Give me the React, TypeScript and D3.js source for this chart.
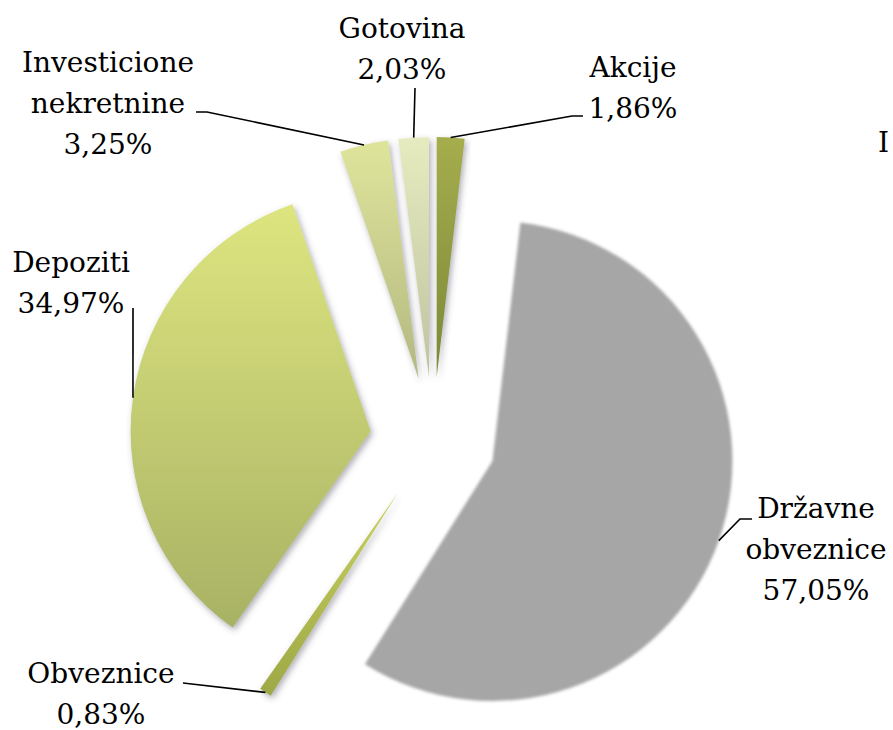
import React from "react";
import * as d3 from "d3";

// ---- data ----
const labels = ["Akcije", "Državne obveznice", "Obveznice", "Depoziti", "Investicione nekretnine", "Gotovina"];
const values = [1.86, 57.05, 0.83, 34.97, 3.25, 2.03];
const valueText = ["1,86%", "57,05%", "0,83%", "34,97%", "3,25%", "2,03%"];

// ---- style ----
const topColors = ["#a5ad4d", "#a6a6a6", "#c9d160", "#dde57f", "#dfe49b", "#e6ebbf"];
const bottomColors = ["#7c8837", "#a6a6a6", "#9ea846", "#a8b264", "#b3b881", "#c0c39f"];

// label layout: text block centre x, first baseline y, line splits, leader bend points
const labelLines = [
  ["Akcije"],
  ["Državne", "obveznice"],
  ["Obveznice"],
  ["Depoziti"],
  ["Investicione", "nekretnine"],
  ["Gotovina"],
];
const labelLayout = [
  { x: 633, y: 77, leader: [[572, 116], [583, 116]] },
  { x: 816, y: 518, leader: [[740, 519], [752, 519]] },
  { x: 101, y: 683, leader: [[183, 683]] },
  { x: 71, y: 272, leader: [[133, 308]] },
  { x: 108, y: 72, leader: [[207, 112], [196, 112]] },
  { x: 402, y: 38, leader: [[415, 88]] },
];

const W = 893;
const H = 730;
const cx = 433;
const cy = 440;
const R = 240;
const EXPLODE = 63;
const FONT = "'DejaVu Serif', serif";
const FS = 28;
const LH = 41;

export default function App() {
  const pie = d3.pie<number>().sort(null).value((d) => d);
  const arcs = pie(values);
  const arc = d3.arc<d3.PieArcDatum<number>>().innerRadius(0).outerRadius(R);

  return (
    <svg
      width={W}
      height={H}
      viewBox={`0 0 ${W} ${H}`}
      style={{ position: "absolute", left: 0, top: 0, background: "#fff" }}
    >
      <defs>
        {arcs.map((a, i) => (
          <linearGradient key={i} id={`g${i}`} x1="0" y1="0" x2="0" y2="1">
            <stop offset="0%" stopColor={topColors[i]} />
            <stop offset="100%" stopColor={bottomColors[i]} />
          </linearGradient>
        ))}
        <filter id="shadow" x="-20%" y="-20%" width="140%" height="140%">
          <feDropShadow dx="2" dy="3" stdDeviation="3" floodColor="#4a4a5a" floodOpacity="0.45" />
        </filter>
        <filter id="blur" x="-10%" y="-10%" width="120%" height="120%">
          <feGaussianBlur stdDeviation="1.6" />
        </filter>
      </defs>
      <rect width={W} height={H} fill="#fff" />
      {arcs.map((a, i) => {
        const mid = (a.startAngle + a.endAngle) / 2;
        const ox = cx + Math.sin(mid) * EXPLODE;
        const oy = cy - Math.cos(mid) * EXPLODE;
        const isGray = i === 1;
        return (
          <path
            key={i}
            d={arc(a) || ""}
            transform={`translate(${ox},${oy})`}
            fill={`url(#g${i})`}
            filter={isGray ? "url(#blur)" : "url(#shadow)"}
          />
        );
      })}
      {arcs.map((a, i) => {
        const mid = (a.startAngle + a.endAngle) / 2;
        const ox = cx + Math.sin(mid) * EXPLODE;
        const oy = cy - Math.cos(mid) * EXPLODE;
        const sx = ox + Math.sin(mid) * R;
        const sy = oy - Math.cos(mid) * R;
        const pts = [[sx, sy], ...labelLayout[i].leader];
        const line = d3.line()(pts as [number, number][]) || "";
        return <path key={i} d={line} fill="none" stroke="#000" strokeWidth={1.6} />;
      })}
      {arcs.map((a, i) => {
        const lay = labelLayout[i];
        const lines = [...labelLines[i], valueText[i]];
        return (
          <text
            key={i}
            x={lay.x}
            y={lay.y}
            textAnchor="middle"
            fontFamily={FONT}
            fontSize={FS}
            fill="#000"
          >
            {lines.map((l, j) => (
              <tspan key={j} x={lay.x} y={lay.y + j * LH}>
                {l}
              </tspan>
            ))}
          </text>
        );
      })}
      <text x={878} y={152} fontFamily={FONT} fontSize={FS} fill="#000">
        I
      </text>
    </svg>
  );
}
